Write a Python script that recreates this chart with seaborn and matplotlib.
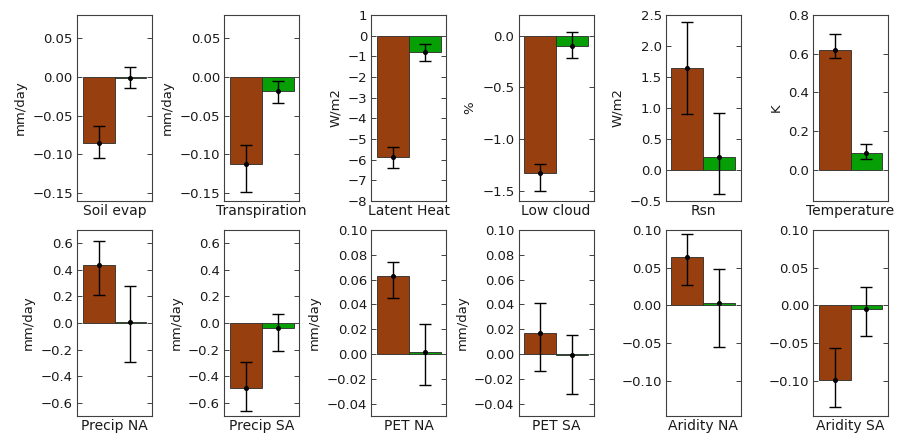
import numpy as np
import pandas as pd
import matplotlib
matplotlib.use("Agg")
import matplotlib.pyplot as plt
import seaborn as sns

# Panel names, units and axis ranges
panels = ["Soil evap", "Transpiration", "Latent Heat", "Low cloud", "Rsn", "Temperature",
          "Precip NA", "Precip SA", "PET NA", "PET SA", "Aridity NA", "Aridity SA"]
units = ["mm/day", "mm/day", "W/m2", "%", "W/m2", "K",
         "mm/day", "mm/day", "mm/day", "mm/day", "", ""]

# First experiment (brown bars): mean and range
brown_mean = [-0.085, -0.112, -5.85, -1.33, 1.65, 0.62,
              0.44, -0.49, 0.063, 0.017, 0.064, -0.099]
brown_low = [-0.105, -0.148, -6.40, -1.50, 0.90, 0.58,
             0.21, -0.66, 0.045, -0.0135, 0.027, -0.135]
brown_high = [-0.063, -0.088, -5.40, -1.24, 2.38, 0.70,
              0.62, -0.29, 0.074, 0.041, 0.095, -0.057]

# Second experiment (green bars): mean and range
green_mean = [-0.001, -0.018, -0.80, -0.10, 0.21, 0.088,
              0.01, -0.04, 0.002, -0.001, 0.003, -0.005]
green_low = [-0.014, -0.033, -1.25, -0.22, -0.39, 0.056,
             -0.29, -0.21, -0.025, -0.032, -0.055, -0.041]
green_high = [0.013, -0.005, -0.40, 0.04, 0.92, 0.133,
              0.28, 0.065, 0.024, 0.0155, 0.048, 0.0245]

y_limits = [(-0.16, 0.08), (-0.16, 0.08), (-8, 1), (-1.6, 0.2), (-0.5, 2.5), (-0.16, 0.8),
            (-0.7, 0.7), (-0.7, 0.7), (-0.05, 0.10), (-0.05, 0.10), (-0.147, 0.10), (-0.147, 0.10)]
y_ticks = [[-0.15, -0.10, -0.05, 0.00, 0.05],
           [-0.15, -0.10, -0.05, 0.00, 0.05],
           [-8, -7, -6, -5, -4, -3, -2, -1, 0, 1],
           [-1.5, -1.0, -0.5, 0.0],
           [-0.5, 0.0, 0.5, 1.0, 1.5, 2.0, 2.5],
           [0.0, 0.2, 0.4, 0.6, 0.8],
           [-0.6, -0.4, -0.2, 0.0, 0.2, 0.4, 0.6],
           [-0.6, -0.4, -0.2, 0.0, 0.2, 0.4, 0.6],
           [-0.04, -0.02, 0.00, 0.02, 0.04, 0.06, 0.08, 0.10],
           [-0.04, -0.02, 0.00, 0.02, 0.04, 0.06, 0.08, 0.10],
           [-0.10, -0.05, 0.00, 0.05, 0.10],
           [-0.10, -0.05, 0.00, 0.05, 0.10]]
tick_fmt = ["%.2f", "%.2f", "%d", "%.1f", "%.1f", "%.1f",
            "%.1f", "%.1f", "%.2f", "%.2f", "%.2f", "%.2f"]

BROWN = "#983F10"
GREEN = "#06A006"

sns.set_style("ticks")
plt.rcParams.update({
    "font.family": ["DejaVu Sans"],
    "xtick.direction": "in",
    "ytick.direction": "in",
    "ytick.right": True,
    "ytick.major.size": 3.5,
    "ytick.major.width": 0.7,
    "ytick.major.pad": 3.0,
    "axes.edgecolor": "#404040",
    "axes.linewidth": 0.8,
    "ytick.color": "#404040",
    "ytick.labelcolor": "#1a1a1a",
})

fig, axes = plt.subplots(2, 6, figsize=(9, 4.38), dpi=100)
fig.subplots_adjust(left=0.0856, right=0.9867, top=0.9658, bottom=0.0502,
                    wspace=0.963, hspace=0.156)

for i, ax in enumerate(axes.flat):
    df = pd.DataFrame({"run": ["a", "b"], "value": [brown_mean[i], green_mean[i]]})
    sns.barplot(data=df, x="run", y="value", hue="run", palette=[BROWN, GREEN],
                saturation=1, width=1.0, errorbar=None, legend=False, ax=ax,
                edgecolor="#2a2a2a", linewidth=0.6)
    means = np.array([brown_mean[i], green_mean[i]])
    lows = np.array([brown_low[i], green_low[i]])
    highs = np.array([brown_high[i], green_high[i]])
    ax.errorbar([0, 1], means, yerr=[means - lows, highs - means], fmt="o",
                color="black", ms=2.6, elinewidth=1.0, capsize=4.5, capthick=1.0, zorder=5)
    ax.set_xlim(-0.675, 1.675)
    ax.set_ylim(*y_limits[i])
    ax.set_yticks(y_ticks[i])
    ax.set_yticklabels([(tick_fmt[i] % t).replace("-", "\u2212") for t in y_ticks[i]],
                       fontsize=9.5)
    ax.set_xticks([])
    ax.set_xlabel(panels[i], fontsize=10, labelpad=2, color="#1a1a1a")
    ax.set_ylabel(units[i], fontsize=9.5, color="#1a1a1a")
    for s in ax.spines.values():
        s.set_visible(True)

fig.savefig("out.png", dpi=100, facecolor="white")
